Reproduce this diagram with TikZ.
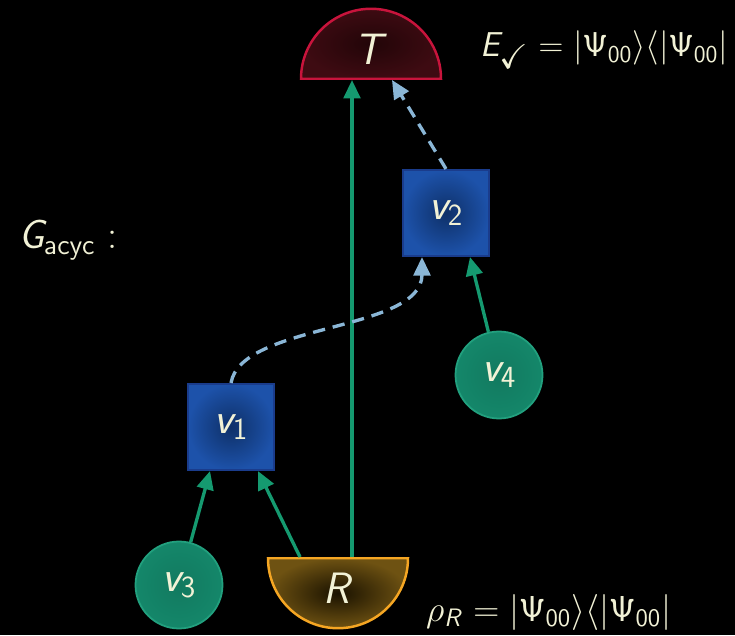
\documentclass[tikz,border=0pt]{standalone}
\usepackage{fix-cm}
\usepackage{amssymb}
\usetikzlibrary{positioning,calc,arrows.meta,shapes.geometric}
\DeclareMathAlphabet{\mathsfit}{OT1}{cmss}{m}{sl}
\newcommand{\sfv}[1]{\mathsfit{#1}}
\newcommand{\vtx}[1]{\mathsfit{v}_{\mathsf{#1}}}
\newcommand{\bellket}{|\mathsf{\Psi}_{\mathsf{00}}\rangle\langle|\mathsf{\Psi}_{\mathsf{00}}|}
\definecolor{Cream}{HTML}{F2F2D6}
\definecolor{EdgeGreen}{HTML}{159A70}
\definecolor{EdgeBlue}{HTML}{8AB6D6}
\definecolor{QBlue}{HTML}{1D52AA}
\definecolor{QBlueDark}{HTML}{0E3068}
\definecolor{QBlueLine}{HTML}{1A3C8C}
\definecolor{SrcGreen}{HTML}{14876A}
\definecolor{SrcGreenLine}{HTML}{22A07E}
\definecolor{TestRed}{HTML}{C8143C}
\definecolor{TestFill}{HTML}{3E0B12}
\definecolor{TestDark}{HTML}{220508}
\definecolor{RootGold}{HTML}{F5A623}
\definecolor{RootFill}{HTML}{6E5212}
\definecolor{RootDark}{HTML}{1A1200}

\begin{document}
\begin{tikzpicture}[font=\fontsize{25}{30}\selectfont,text=Cream,
  qnode/.style={rectangle,draw=QBlueLine,line width=1.2pt,inner color=QBlueDark,
    outer color=QBlue,minimum size=1.72cm},
  snode/.style={circle,draw=SrcGreenLine,line width=1pt,inner color=SrcGreen!90!black,
    outer color=SrcGreen,minimum size=1.74cm},
  tnode/.style={semicircle,draw=TestRed,line width=1.4pt,inner color=TestDark,
    outer color=TestFill,minimum width=2.8cm,minimum height=1.4cm},
  rnode/.style={semicircle,shape border rotate=180,draw=RootGold,line width=1.4pt,
    inner color=RootDark,outer color=RootFill,minimum width=2.8cm,minimum height=1.4cm},
  lbl/.style={anchor=west,font=\fontsize{20.5}{24}\selectfont},
  gedge/.style={-{Triangle[length=10.5pt,width=9.5pt]},draw=EdgeGreen,line width=1.9pt},
  dedge/.style={-{Triangle[length=10.5pt,width=9.5pt]},draw=EdgeBlue,line width=1.9pt,
    dash pattern=on 7pt off 4.5pt}]
\fill[black] (0,0) rectangle (14.7,12.7);
\useasboundingbox (0,0) rectangle (14.7,12.7);
% measurement nodes
\node[tnode,anchor=chord center] (T) at (7.42,11.1) {$\sfv{T}$};
\node[rnode,anchor=chord center] (R) at (6.76,1.56) {$\sfv{R}$};
% graph nodes
\node[qnode] (v2) at (8.92,8.44) {$\vtx{2}$};
\node[qnode] (v1) at (4.62,4.16) {$\vtx{1}$};
\node[snode] (v4) at (9.98,5.2) {$\vtx{4}$};
\node[snode] (v3) at (3.58,1.0) {$\vtx{3}$};
% labels
\node[lbl,font=\fontsize{19.6}{23}\selectfont] (Elbl) at (9.48,11.7) {$\sfv{E}_{\scriptscriptstyle\checkmark} = \bellket$};
\node[lbl] (rholbl) at (8.4,0.45) {$\rho_{\sfv{R}} = \bellket$};
\node[lbl,font=\fontsize{23}{27}\selectfont] (Glbl) at (0.25,7.9) {$\sfv{G}_{\mathsf{acyc}}$ :};
% edges
\draw[gedge] ([xshift=0.28cm]R.chord center) -- ([xshift=0.28cm]R.chord center |- T.chord center);
\draw[gedge] ([xshift=-0.76cm]R.chord center) -- ([xshift=0.54cm]v1.south);
\draw[gedge] (v3) -- ([xshift=-0.42cm]v1.south);
\draw[gedge] (v4) -- ([xshift=0.48cm]v2.south);
\draw[dedge] (v1.north) .. controls +(0.2,1.2) and +(0,-1.5) .. ([xshift=-0.48cm]v2.south);
\draw[dedge] (v2.north) -- ([xshift=0.42cm]T.chord center);
\end{tikzpicture}
\end{document}
